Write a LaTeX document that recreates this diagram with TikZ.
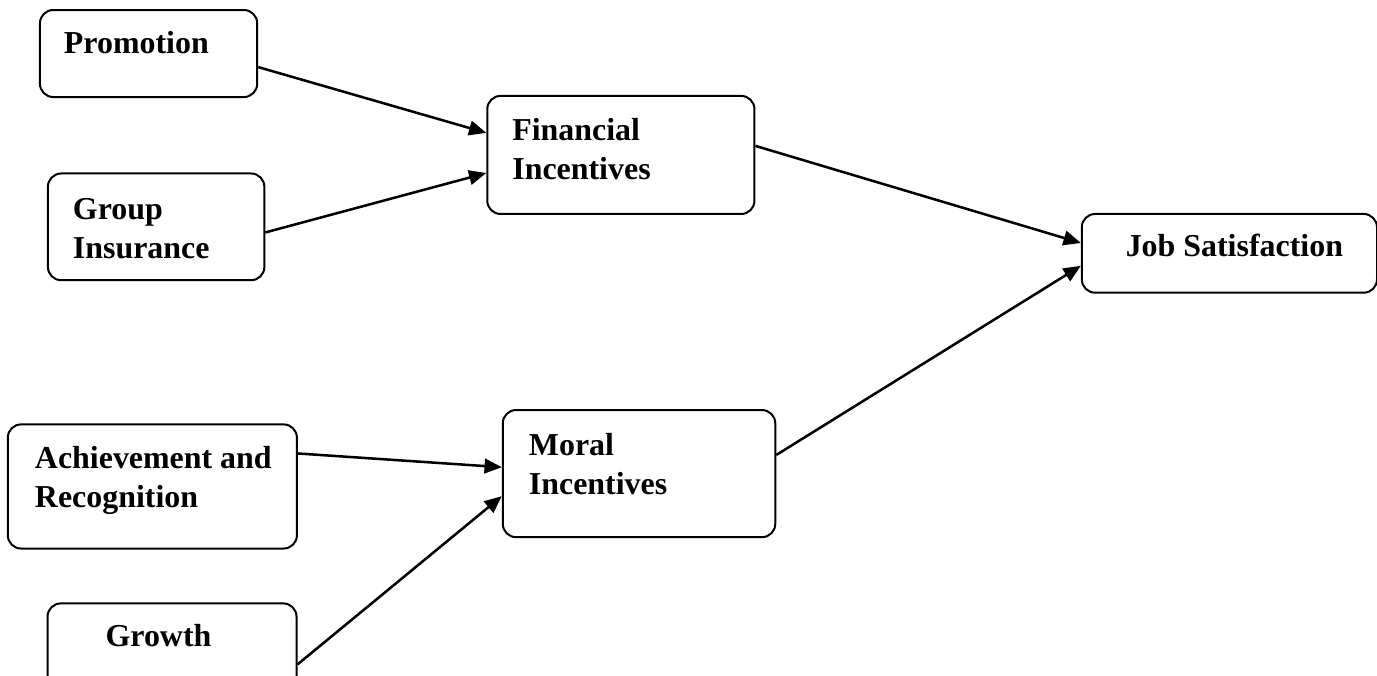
\documentclass[tikz,border=0pt]{standalone}
\usepackage{fontspec}
\setmainfont{Liberation Serif}
\usetikzlibrary{positioning,arrows.meta}

\begin{document}
\begin{tikzpicture}[thick,
	node distance=2cm,
	on grid,
	box/.style={draw,rounded corners=5pt,line width=0.75pt,inner sep=0pt},
	boxtext/.style={anchor=base west,align=left,inner sep=0pt,
		font=\bfseries\fontsize{12}{14.6}\selectfont},
	link/.style={-{Triangle[length=6.5pt,width=5.5pt]},line width=0.95pt}]

\useasboundingbox (-1.963,0.707) rectangle (16.23,-8.216);

% Boxes
\node[box,
	minimum width=2.87cm, minimum height=1.15cm] (promo) at (0,0) {};

\node[box,
	below right=2.29cm and 0.1cm of promo,
	minimum width=2.86cm, minimum height=1.41cm] (group) {};

\node[box,
	below right=1.34cm and 6.24cm of promo,
	minimum width=3.53cm, minimum height=1.56cm] (fin) {};

\node[box,
	below right=1.30cm and 8.04cm of fin,
	minimum width=3.90cm, minimum height=1.04cm] (job) {};

\node[box,
	below left=3.43cm and 0.05cm of group,
	minimum width=3.82cm, minimum height=1.64cm] (ach) {};

\node[box,
	below right=4.21cm and 0.24cm of fin,
	minimum width=3.60cm, minimum height=1.68cm] (moral) {};

\node[box,
	below right=2.14cm and 0.26cm of ach,
	minimum width=3.29cm, minimum height=1.19cm] (growth) {};

% Texts (base of the last line)
\node[boxtext] (promo-t) at ([shift={(9pt,-16.8pt)}]promo.north west) {Promotion};
\node[boxtext] (group-t) at ([shift={(9.4pt,-32.3pt)}]group.north west) {Group\\Insurance};
\node[boxtext] (fin-t) at ([shift={(9.4pt,-31.9pt)}]fin.north west) {Financial\\Incentives};
\node[boxtext] (job-t) at ([shift={(16.5pt,-16.4pt)}]job.north west) {Job Satisfaction};
\node[boxtext] (ach-t) at ([shift={(10.2pt,-31.7pt)}]ach.north west) {Achievement and\\Recognition};
\node[boxtext] (moral-t) at ([shift={(9.8pt,-32.2pt)}]moral.north west) {Moral\\Incentives};
\node[boxtext] (growth-t) at ([shift={(21.8pt,-16.4pt)}]growth.north west) {Growth};

% connections
\draw[link] ([yshift=-5.1pt]promo.east) -- ([yshift=8.3pt]fin.west);
\draw[link] ([yshift=-2.1pt]group.east) -- ([yshift=-6.8pt]fin.west);
\draw[link] ([yshift=3.4pt]fin.east) -- ([yshift=3.9pt]job.west);
\draw[link] ([yshift=7pt]moral.east) -- ([yshift=-4.7pt]job.west);
\draw[link] ([yshift=12.4pt]ach.east) -- ([yshift=2.4pt]moral.west);
\draw[link] ([yshift=-23.3pt]growth.north east) -- ([yshift=-8.5pt]moral.west);

\end{tikzpicture}
\end{document}
